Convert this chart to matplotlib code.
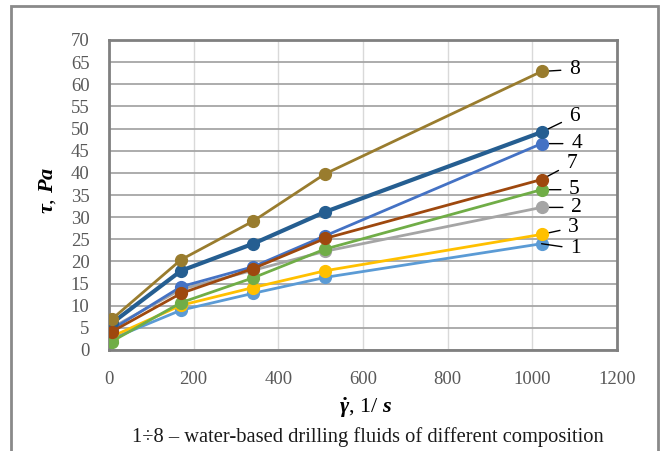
import numpy as np
import matplotlib.pyplot as plt
from matplotlib.patches import Rectangle

plt.rcParams['font.family'] = ['Liberation Serif', 'DejaVu Serif']
plt.rcParams['mathtext.fontset'] = 'custom'
plt.rcParams['mathtext.rm'] = 'Liberation Serif:bold'
plt.rcParams['mathtext.it'] = 'Liberation Serif:bold:italic'
plt.rcParams['mathtext.bf'] = 'Liberation Serif:bold'

# shear rate, 1/s
shear = [6, 170.3, 340.6, 510.9, 1021.8]

# shear stress, Pa
tau1 = [2.5, 9.0, 12.8, 16.4, 24.0]
tau2 = [5.0, 13.7, 18.0, 22.3, 32.2]
tau3 = [3.0, 10.1, 14.1, 17.9, 26.1]
tau4 = [4.6, 14.3, 18.8, 25.8, 46.6]
tau5 = [1.9, 10.7, 16.3, 22.8, 36.2]
tau6 = [6.0, 17.9, 24.0, 31.2, 49.2]
tau7 = [4.1, 12.8, 18.4, 25.2, 38.5]
tau8 = [6.9, 20.4, 29.1, 39.8, 62.9]

names = ['1', '2', '3', '4', '5', '6', '7', '8']
colors = ['#5B9BD5', '#A5A5A5', '#FFC000', '#4472C4', '#70AD47', '#255E91', '#9E480E', '#997C2E']
widths = [2, 2, 2, 2, 2, 3, 2, 2]
# label offsets from last marker, pixels (x right, y up)
offs = [(34, -5), (35, 0), (32, 7), (35, 0), (33, 0), (33, 16), (30, 16), (33, 2)]

fig = plt.figure(figsize=(6.6, 4.51), dpi=100)
ax = fig.add_axes([109/660, 1-350/451, (617-109)/660, (350-40)/451])

# outer frame
fig.patches.append(Rectangle((11/660, -0.1), (658-11)/660, 1.1-6/451, transform=fig.transFigure,
                             fill=False, edgecolor='#8a8a8a', lw=2))

series = [tau1, tau2, tau3, tau4, tau5, tau6, tau7, tau8]
order = [0, 2, 1, 4, 6, 3, 5, 7]
for i in order:
    ax.plot(shear, series[i], '-o', color=colors[i], lw=widths[i], ms=8.5, zorder=3+i)

for i in range(8):
    ax.annotate(names[i], xy=(shear[-1], series[i][-1]), xytext=offs[i], textcoords='offset pixels',
                ha='center', va='center', fontsize=15.5, color='black',
                arrowprops=dict(arrowstyle='-', color='black', lw=1, shrinkA=4, shrinkB=0))

ax.set_xlim(0, 1200)
ax.set_ylim(0, 70)
ax.set_xticks(np.arange(0, 1201, 200))
ax.set_yticks(np.arange(0, 71, 5))
ax.tick_params(length=0, labelsize=13.5, labelcolor='#595959')
ax.tick_params(axis='x', pad=15)
ax.tick_params(axis='y', pad=14)
ax.grid(axis='y', color='#a6a6a6', lw=1.3)
ax.grid(axis='x', color='#d9d9d9', lw=1)
ax.set_axisbelow(True)
for s in ax.spines.values():
    s.set_color('#808080')
    s.set_linewidth(2)

fig.text(48/660, 1-190/451, r'$\tau$, $Pa$', rotation=90, ha='center', va='center', fontsize=16)
fig.text(366/660, 1-408/451, r'$\dot{\gamma}$, 1/ $s$', ha='center', va='center', fontsize=16)
fig.text(368/660, 1-437/451, '1÷8 – water-based drilling fluids of different composition',
         ha='center', va='center', fontsize=14.8, color='#1a1a1a')

fig.savefig('out.png', dpi=100)
